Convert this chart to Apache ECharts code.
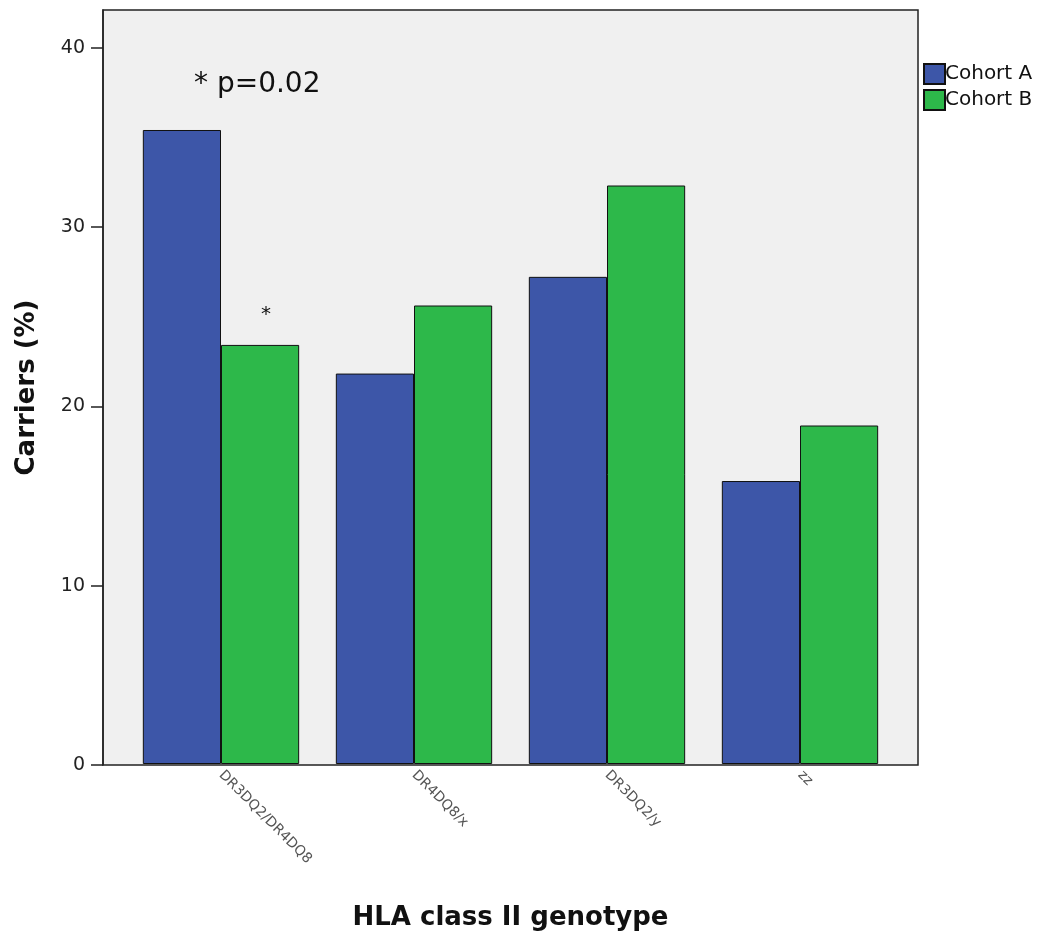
<!DOCTYPE html>
<html><head><meta charset="utf-8">
<script src="https://cdn.jsdelivr.net/npm/echarts@6/dist/echarts.min.js"></script>
<style>html,body{margin:0;padding:0;background:#fff}#c{width:1045px;height:936px}</style>
</head><body><div id="c"></div>
<script>
const categories = ['DR3DQ2/DR4DQ8', 'DR4DQ8/x', 'DR3DQ2/y', 'zz'];
const cohortA = [35.4, 21.8, 27.2, 15.8];
const cohortB = [23.4, 25.6, 32.3, 18.9];
const seriesNames = ['Cohort A', 'Cohort B'];

const chart = echarts.init(document.getElementById('c'));
const font = '"DejaVu Sans", "Liberation Sans", sans-serif';
const yMax = 42.1;
chart.setOption({
  animation: false,
  textStyle: { fontFamily: font },
  grid: [
    { left: 103, right: 127, top: 10, bottom: 171, show: true, backgroundColor: '#f0f0f0', borderColor: '#222', borderWidth: 1.5 },
    { left: 124.5, right: 148.5, top: 10, bottom: 171 }
  ],
  legend: {
    orient: 'vertical', left: 923, top: 63, padding: 0, itemWidth: 21, itemHeight: 20, itemGap: 4,
    icon: 'rect', textStyle: { fontSize: 20, lineHeight: 20, color: '#111', fontFamily: font, padding: [0,0,0,-5] },
    data: seriesNames
  },
  xAxis: [
    { type: 'category', gridIndex: 0, data: [], show: false },
    {
      type: 'category', gridIndex: 1, data: categories,
      name: 'HLA class II genotype', nameLocation: 'middle', nameGap: 141,
      nameTextStyle: { fontSize: 26, fontWeight: 'bold', color: '#111', fontFamily: font },
      axisLine: { show: false },
      axisTick: { alignWithLabel: true, length: 7, lineStyle: { color: '#222', width: 1.5 } },
      axisLabel: { rotate: -45, fontSize: 14, color: '#555', margin: 9, interval: 0 }
    }
  ],
  yAxis: [
    {
      type: 'value', gridIndex: 0, min: 0, max: yMax, interval: 10,
      name: 'Carriers (%)', nameLocation: 'middle', nameGap: 63,
      nameTextStyle: { fontSize: 26, fontWeight: 'bold', color: '#111', fontFamily: font },
      axisLine: { show: true, lineStyle: { color: '#222', width: 1.5 } },
      axisTick: { show: true, length: 12, lineStyle: { color: '#222', width: 1.5 } },
      axisLabel: { fontSize: 19, color: '#222', margin: 18, showMaxLabel: false, formatter: v => (v % 10 === 0 ? String(v) : '') },
      splitLine: { show: false }
    },
    { type: 'value', gridIndex: 1, min: 0, max: yMax, show: false, splitLine: { show: false } }
  ],
  series: [
    { name: seriesNames[0], type: 'bar', xAxisIndex: 1, yAxisIndex: 1, data: cohortA, barGap: '0%', barCategoryGap: '19%',
      itemStyle: { color: '#3d56a8', borderColor: '#111', borderWidth: 1 } },
    { name: seriesNames[1], type: 'bar', xAxisIndex: 1, yAxisIndex: 1, data: cohortB, barGap: '0%', barCategoryGap: '19%',
      itemStyle: { color: '#2db84a', borderColor: '#111', borderWidth: 1 } }
  ],
  graphic: [
    { type: 'text', left: 194, top: 71, style: { text: '* p=0.02', fontSize: 28, fill: '#111', fontFamily: font } },
    { type: 'text', left: 261, top: 305, style: { text: '*', fontSize: 20, fill: '#111', fontFamily: font } }
  ]
});
</script></body></html>
